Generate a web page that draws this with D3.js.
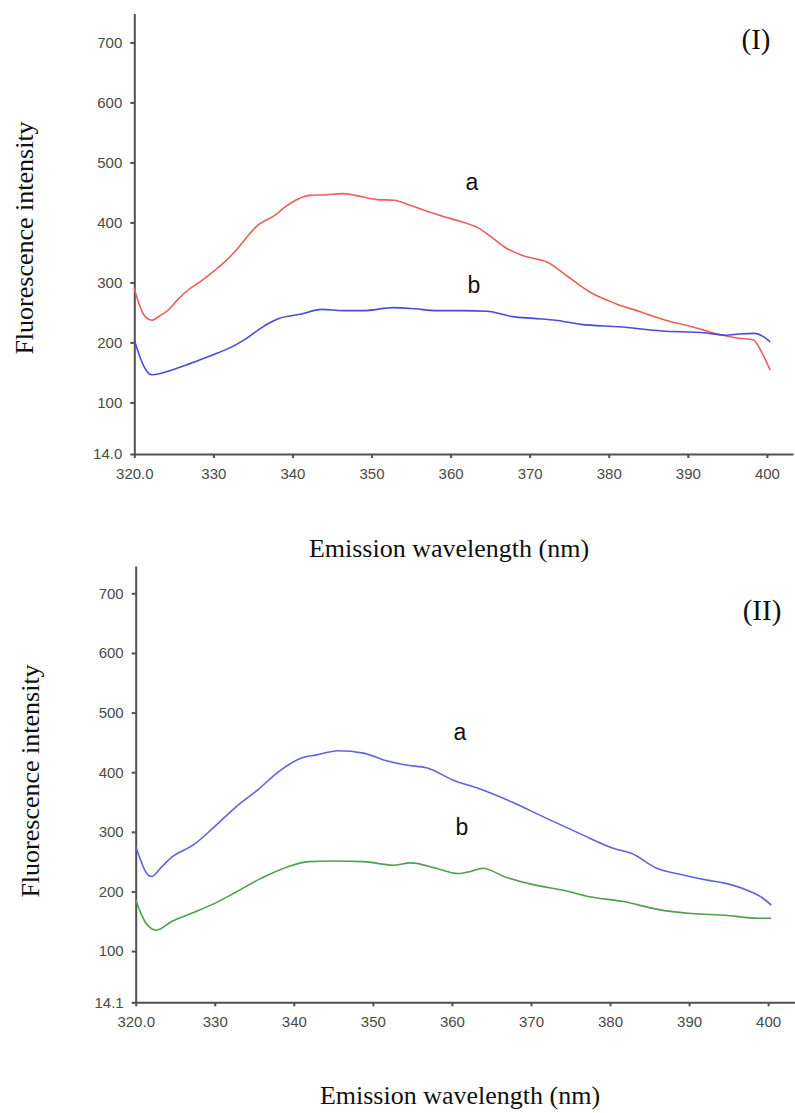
<!DOCTYPE html>
<html>
<head>
<meta charset="utf-8">
<style>
  body { margin: 0; background: #fff; }
  .tick text { font-family: "Liberation Sans", Arial, sans-serif; font-size: 15px; fill: #4a4a4a; }
  .axis path, .axis line { stroke: #505050; stroke-width: 2; }
  .title { font-family: "Liberation Serif", "Times New Roman", serif; font-size: 26px; fill: #111; }
  .tag { font-family: "Liberation Serif", "Times New Roman", serif; font-size: 29px; fill: #111; }
  .curve-label { font-family: "Liberation Sans", Arial, sans-serif; font-size: 23px; fill: #111; }
</style>
<script src="https://d3js.org/d3.v7.min.js"></script>
</head>
<body>
<div id="chart"></div>
<script>
// tick labels
var xTicks = [320, 330, 340, 350, 360, 370, 380, 390, 400];
var yTicksI = [14.0, 100, 200, 300, 400, 500, 600, 700];
var yTicksII = [14.1, 100, 200, 300, 400, 500, 600, 700];

// panel I, curve a (red)
var waveIa = [320.0, 320.5, 321.2, 322.2, 323.2, 324.3, 325.4, 326.5, 328.3, 330.2, 331.5, 332.9, 334.2, 335.6, 337.8, 339.0, 340.4, 342.1, 344.3, 346.4, 348.0, 350.7, 352.8, 355.0, 357.1, 359.3, 361.4, 363.6, 365.2, 366.8, 369.5, 372.2, 374.9, 377.6, 380.8, 384.0, 387.2, 390.5, 393.7, 396.4, 398.3, 399.4, 400.4];
var intIa  = [290, 268, 246, 237, 244, 254, 270, 284, 301, 320, 335, 354, 375, 395, 412, 425, 437, 445, 446, 448, 445, 438, 437, 428, 418, 409, 401, 390, 375, 359, 343, 334, 309, 284, 265, 251, 237, 226, 214, 207, 204, 182, 154];

// panel I, curve b (blue)
var waveIb = [320.0, 320.6, 321.3, 322.2, 323.5, 324.8, 326.5, 328.1, 330.3, 332.4, 334.0, 335.6, 337.0, 338.3, 341.0, 343.7, 346.4, 349.0, 352.8, 355.5, 358.2, 361.4, 364.6, 367.8, 370.5, 373.3, 376.5, 381.3, 386.7, 392.1, 394.8, 396.5, 398.5, 399.5, 400.4];
var intIb  = [204, 180, 158, 146, 149, 154, 162, 170, 181, 193, 205, 220, 232, 240, 247, 255, 253, 253, 258, 256, 253, 253, 252, 243, 240, 237, 230, 226, 219, 216, 212, 214, 215, 210, 201];

// panel II, curve a (blue)
var waveIIa = [320.0, 320.7, 321.3, 322.0, 323.2, 324.6, 327.3, 330.0, 332.7, 335.4, 338.1, 340.8, 342.9, 345.6, 348.8, 351.5, 354.2, 356.9, 360.1, 363.3, 367.6, 371.9, 376.2, 380.5, 382.7, 385.9, 389.1, 392.3, 394.5, 397.7, 399.3, 400.4];
var intIIa  = [275, 250, 232, 225, 240, 258, 278, 309, 342, 370, 401, 423, 429, 436, 432, 420, 412, 407, 387, 373, 350, 323, 297, 272, 264, 239, 228, 219, 214, 200, 189, 177];

// panel II, curve b (green)
var waveIIb = [320.0, 320.6, 321.4, 322.6, 324.6, 327.0, 330.0, 332.7, 335.4, 337.3, 339.2, 341.9, 345.0, 348.8, 352.6, 354.8, 358.0, 360.7, 362.5, 363.9, 366.6, 370.4, 374.1, 377.4, 381.7, 386.0, 390.3, 394.5, 398.8, 400.4];
var intIIb  = [186, 165, 145, 135, 150, 163, 180, 199, 219, 231, 241, 250, 251, 250, 244, 248, 239, 230, 234, 239, 225, 211, 202, 191, 183, 170, 163, 160, 155, 155];

var svg = d3.select("#chart").append("svg")
  .attr("width", 795).attr("height", 1113);

function panel(p) {
  var x = d3.scaleLinear().domain(p.xDomain).range([p.left, p.right]);
  var y = d3.scaleLinear().domain(p.yDomain).range([p.bottom, p.top]);
  var g = svg.append("g");

  var yFmt = function(d){ return d < 20 ? d.toFixed(1) : d3.format("d")(d); };
  var xFmt = function(d){ return d === 320 ? "320.0" : d3.format("d")(d); };

  g.append("g").attr("class", "axis")
    .attr("transform", "translate(" + p.left + ",0)")
    .call(d3.axisLeft(y).tickValues(p.yTicks).tickFormat(yFmt).tickSize(4).tickSizeOuter(0).tickPadding(8));

  g.append("g").attr("class", "axis")
    .attr("transform", "translate(0," + p.bottom + ")")
    .call(d3.axisBottom(x).tickValues(xTicks).tickFormat(xFmt).tickSize(4).tickSizeOuter(0).tickPadding(10));

  var line = d3.line()
    .x(function(d){ return x(d[0]); })
    .y(function(d){ return y(d[1]); })
    .curve(d3.curveMonotoneX);

  p.series.forEach(function(s){
    g.append("path")
      .datum(d3.zip(s.wave, s.vals))
      .attr("fill", "none")
      .attr("stroke", s.color)
      .attr("stroke-width", 1.6)
      .attr("d", line);
    g.append("text").attr("class", "curve-label")
      .attr("x", s.lx).attr("y", s.ly)
      .attr("text-anchor", "middle").text(s.name);
  });

  g.append("text").attr("class", "title")
    .attr("transform", "translate(" + p.ytX + "," + p.ytY + ") rotate(-90)")
    .attr("text-anchor", "middle").text("Fluorescence intensity");
  g.append("text").attr("class", "title")
    .attr("x", p.xtX).attr("y", p.xtY)
    .attr("text-anchor", "middle").text("Emission wavelength (nm)");
  g.append("text").attr("class", "tag")
    .attr("x", p.tagX).attr("y", p.tagY)
    .attr("text-anchor", "middle").text(p.tag);
}

panel({
  xDomain: [320, 403.3], left: 134.3, right: 793,
  yDomain: [14, 748], bottom: 454, top: 13.6,
  yTicks: yTicksI, tag: "(I)", tagX: 756, tagY: 49,
  ytX: 33, ytY: 238, xtX: 449, xtY: 557,
  series: [
    { wave: waveIa, vals: intIa, color: "#e8605c", name: "a", lx: 472, ly: 190 },
    { wave: waveIb, vals: intIb, color: "#4b4bdb", name: "b", lx: 474, ly: 293 }
  ]
});

panel({
  xDomain: [320, 403.4], left: 135.7, right: 795,
  yDomain: [14.1, 745.8], bottom: 1002.3, top: 566,
  yTicks: yTicksII, tag: "(II)", tagX: 762, tagY: 620,
  ytX: 39, ytY: 781, xtX: 460, xtY: 1104,
  series: [
    { wave: waveIIa, vals: intIIa, color: "#6262e0", name: "a", lx: 460, ly: 740 },
    { wave: waveIIb, vals: intIIb, color: "#4f9f4f", name: "b", lx: 462, ly: 835 }
  ]
});
</script>
</body>
</html>
